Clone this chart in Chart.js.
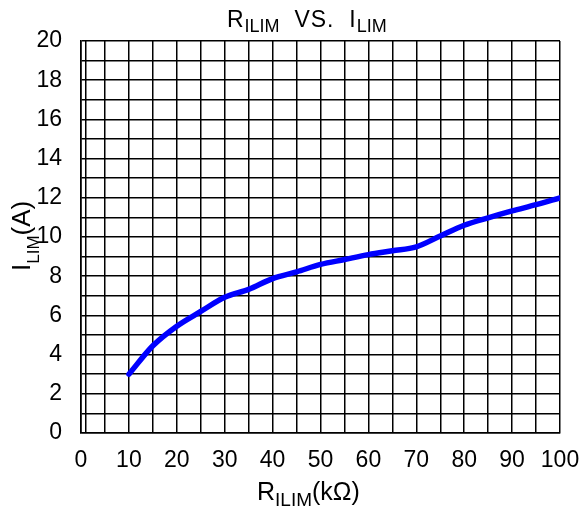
<!DOCTYPE html>
<html>
<head>
<meta charset="utf-8">
<script src="https://cdn.jsdelivr.net/npm/chart.js@4.4.1/dist/chart.umd.min.js"></script>
<style>
  html, body { margin: 0; padding: 0; background: #fff; }
  #wrap { width: 579px; height: 508px; position: relative; }
</style>
</head>
<body>
<div id="wrap"><canvas id="c" width="579" height="508"></canvas></div>
<script>
// ---- data ----
const rIlim = [10, 15, 20, 25, 30, 35, 40, 45, 50, 55, 60, 65, 70, 75, 80, 85, 90, 95, 100];
const iLim  = [3.0, 4.45, 5.45, 6.2, 6.92, 7.33, 7.88, 8.22, 8.6, 8.85, 9.1, 9.3, 9.5, 10.05, 10.6, 10.98, 11.33, 11.65, 12.0];
const xTickLabels = ['0','10','20','30','40','50','60','70','80','90','100'];
const yTickLabels = ['0','2','4','6','8','10','12','14','16','18','20'];
const titleParts  = [['R', 0], ['ILIM', 1], ['  VS.  ', 0], ['I', 0], ['LIM', 1]];
const xTitleParts = [['R', 0], ['ILIM', 1], ['(kΩ)', 0]];
const yTitleParts = [['I', 0], ['LIM', 1], ['(A)', 0]];

const NARROW = '"Liberation Sans Narrow", "Liberation Sans", Arial, sans-serif';
const SANS = '"Liberation Sans", Arial, sans-serif';

function drawParts(ctx, parts, x, y, mainFont, subFont, subDy, mainSpacing) {
  let cx = x;
  ctx.textAlign = 'left';
  ctx.textBaseline = 'alphabetic';
  ctx.fillStyle = '#000';
  for (const [t, sub] of parts) {
    ctx.font = sub ? subFont : mainFont;
    ctx.letterSpacing = (!sub && mainSpacing) ? mainSpacing : '0px';
    ctx.fillText(t, cx, y + (sub ? subDy : 0));
    cx += ctx.measureText(t).width;
  }
  ctx.letterSpacing = '0px';
}

const textPlugin = {
  id: 'subTitles',
  afterDraw(chart) {
    const ctx = chart.ctx;
    ctx.save();
    drawParts(ctx, titleParts, 227, 27, '23px ' + NARROW, '18px ' + SANS, 5, '1px');
    drawParts(ctx, xTitleParts, 257, 500, '25px ' + SANS, '19px ' + SANS, 6);
    ctx.translate(30, 271);
    ctx.rotate(-Math.PI / 2);
    drawParts(ctx, yTitleParts, 0, 0, '26px ' + SANS, '17px ' + SANS, 9);
    ctx.restore();
  }
};

const points = rIlim.map((x, i) => ({ x: x, y: iLim[i] }));

new Chart(document.getElementById('c'), {
  type: 'line',
  data: {
    datasets: [{
      data: points,
      borderColor: '#0000ff',
      borderWidth: 5.5,
      pointRadius: 0,
      cubicInterpolationMode: 'monotone',
      fill: false,
      borderCapStyle: 'round',
      borderJoinStyle: 'round'
    }]
  },
  options: {
    responsive: false,
    animation: false,
    devicePixelRatio: 1,
    layout: { padding: { left: 0, right: 19, top: 41, bottom: 0 } },
    plugins: { legend: { display: false }, title: { display: false }, tooltip: { enabled: false } },
    scales: {
      x: {
        type: 'linear', min: 0, max: 100,
        afterFit(s) { s.height = 75; s.paddingRight = 0; s.paddingLeft = 0; },
        afterBuildTicks(s) {
          const vals = [];
          for (let v = 0; v <= 100; v += 5) vals.push(v);
          vals.push(1);
          vals.sort((a, b) => a - b);
          s.ticks = vals.map(v => ({ value: v }));
        },
        ticks: {
          autoSkip: false, maxRotation: 0, padding: 14,
          color: '#000', font: { family: NARROW, size: 23 },
          callback(v) { const i = xTickLabels.indexOf(String(v)); return (v % 10 === 0 && i >= 0) ? xTickLabels[i] : ''; }
        },
        grid: { color: '#000', lineWidth: 1.5, drawTicks: false },
        border: { color: '#000', width: 1.6 }
      },
      y: {
        type: 'linear', min: 0, max: 20,
        afterFit(s) { s.width = 81; s.paddingTop = 0; s.paddingBottom = 0; },
        ticks: {
          stepSize: 1, autoSkip: false, padding: 19,
          color: '#000', font: { family: NARROW, size: 23 },
          callback(v) { const i = yTickLabels.indexOf(String(v)); return (v % 2 === 0 && i >= 0) ? yTickLabels[i] : ''; }
        },
        grid: { color: '#000', lineWidth: 1.5, drawTicks: false },
        border: { color: '#000', width: 1.6 }
      }
    }
  },
  plugins: [textPlugin]
});
</script>
</body>
</html>
